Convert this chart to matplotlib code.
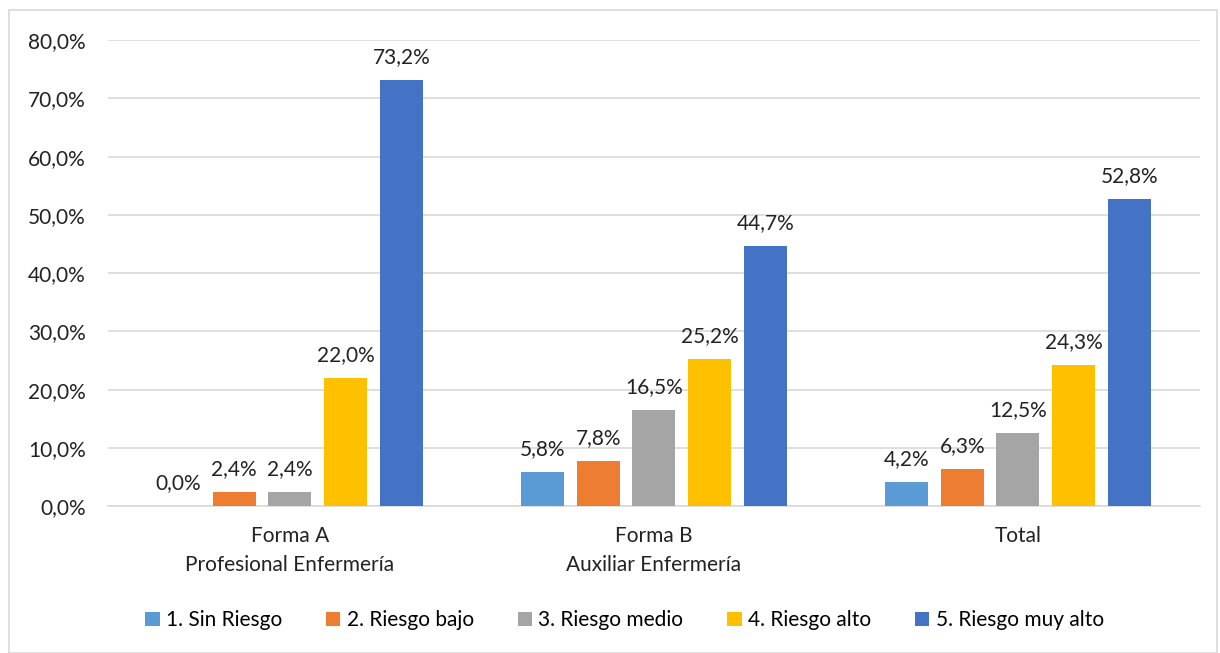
import matplotlib.pyplot as plt
import numpy as np
from matplotlib.patches import Rectangle

categories = ['Forma A\nProfesional Enfermería', 'Forma B\nAuxiliar Enfermería', 'Total']
series = ['1. Sin Riesgo', '2. Riesgo bajo', '3. Riesgo medio', '4. Riesgo alto', '5. Riesgo muy alto']
colors = ['#5B9BD5', '#ED7D31', '#A5A5A5', '#FFC000', '#4472C4']
values = [
    [0.0, 5.8, 4.2],
    [2.4, 7.8, 6.3],
    [2.4, 16.5, 12.5],
    [22.0, 25.2, 24.3],
    [73.2, 44.7, 52.8],
]

plt.rcParams['font.family'] = ['Lato', 'DejaVu Sans']
fs = 15

fig = plt.figure(figsize=(12.2, 6.53), dpi=100)
ax = fig.add_axes([0.0885, 0.225, 0.895, 0.7135])

# light frame around the whole chart
fig.patches.append(Rectangle((0.0075, 0.0), 0.99, 0.985, transform=fig.transFigure,
                             fill=False, edgecolor='#D9D9D9', linewidth=1.2))

x = np.arange(len(categories))
step = 0.153
width = 0.118
for i, (name, vals) in enumerate(zip(series, values)):
    pos = x + (i - 2) * step
    bars = ax.bar(pos, vals, width, color=colors[i], label=name, zorder=3)
    for b, v in zip(bars, vals):
        ax.text(b.get_x() + b.get_width() / 2, v + 2.2, f'{v:.1f}%'.replace('.', ','),
                ha='center', va='bottom', fontsize=fs, color='#222222')

ax.set_xlim(-0.5, 2.5)
ax.set_ylim(0, 80)
ax.set_yticks(np.arange(0, 81, 10))
ax.set_yticklabels([f'{t:.1f}%'.replace('.', ',') for t in np.arange(0, 81, 10)])
ax.set_xticks(x)
ax.set_xticklabels(categories, linespacing=1.6)
ax.tick_params(axis='both', length=0, labelsize=fs, colors='#222222')
ax.tick_params(axis='y', pad=16)
ax.tick_params(axis='x', pad=14)
ax.grid(axis='y', color='#D9D9D9', linewidth=1.2, zorder=0)
for s in ['top', 'right', 'left']:
    ax.spines[s].set_visible(False)
ax.spines['bottom'].set_color('#D9D9D9')
ax.spines['bottom'].set_linewidth(1.2)

ax.legend(loc='center', bbox_to_anchor=(0.473, -0.245), ncol=5, frameon=False,
          fontsize=fs, handlelength=0.7, handleheight=0.7, handletextpad=0.3,
          columnspacing=2.1)

fig.savefig('out.png', dpi=100)
